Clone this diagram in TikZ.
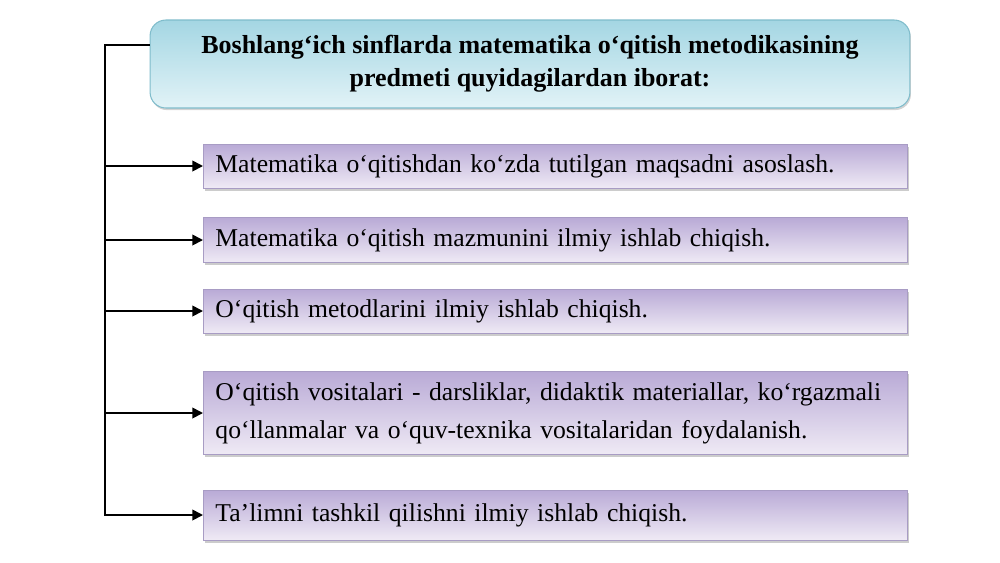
\documentclass[tikz,border=0pt]{standalone}
\usepackage{fontspec}
\setmainfont{Liberation Serif}
\usetikzlibrary{arrows.meta, positioning, shadows}
\definecolor{TitleTop}{HTML}{A4D6E3}
\definecolor{TitleBottom}{HTML}{E2F3F7}
\definecolor{TitleEdge}{HTML}{7FBCCB}
\definecolor{ItemTop}{HTML}{B9AAD6}
\definecolor{ItemBottom}{HTML}{EFEAF5}
\definecolor{ItemEdge}{HTML}{A89CC4}

\begin{document}
\begin{tikzpicture}[
    x=0.02cm, y=-0.02cm,
    titlebox/.style={rectangle, rounded corners=9pt, draw=TitleEdge, line width=0.6pt,
                top color=TitleTop, bottom color=TitleBottom,
                drop shadow={shadow xshift=0.6pt, shadow yshift=-1.2pt, opacity=0.35},
                minimum width=15.2cm, minimum height=1.76cm, align=center,
                font=\fontsize{14.8}{18.8}\selectfont\bfseries},
    itembox/.style={rectangle, draw=ItemEdge, line width=0.5pt,
                top color=ItemTop, bottom color=ItemBottom,
                drop shadow={shadow xshift=1pt, shadow yshift=-1.5pt, opacity=0.4},
                minimum width=14.08cm, anchor=west, align=left, inner xsep=0.24cm,
                text width=13.6cm, font=\fontsize{14.6}{21.5}\selectfont},
    link/.style={line width=1pt, -{Triangle[length=6pt, width=6pt]}}
]
    \useasboundingbox (0,0) rectangle (1000,562);

    % Heading
    \node[titlebox] (title) at (530,64)
        {Boshlang‘ich sinflarda matematika o‘qitish metodikasining\\
         predmeti quyidagilardan iborat:};

    % Items
    \node[itembox, minimum height=0.88cm] (item1) at (203,166)
        {Matematika o‘qitishdan ko‘zda tutilgan maqsadni asoslash.};
    \node[itembox, minimum height=0.9cm] (item2) at (203,240)
        {Matematika o‘qitish mazmunini ilmiy ishlab chiqish.};
    \node[itembox, minimum height=0.88cm] (item3) at (203,311)
        {O‘qitish metodlarini ilmiy ishlab chiqish.};
    \node[itembox, minimum height=1.66cm] (item4) at (203,413)
        {O‘qitish vositalari - darsliklar, didaktik materiallar, ko‘rgazmali
         qo‘llanmalar va o‘quv-texnika vositalaridan foydalanish.};
    \node[itembox, minimum height=1.0cm] (item5) at (203,515)
        {Ta’limni tashkil qilishni ilmiy ishlab chiqish.};

    % Spine
    \coordinate (spine) at (105,45);
    \draw[link] (spine -| title.west) -- (spine) |- (item5.west);
    \foreach \i in {1,...,4} {
        \draw[link] (spine |- item\i.west) -- (item\i.west);
    }
\end{tikzpicture}
\end{document}
